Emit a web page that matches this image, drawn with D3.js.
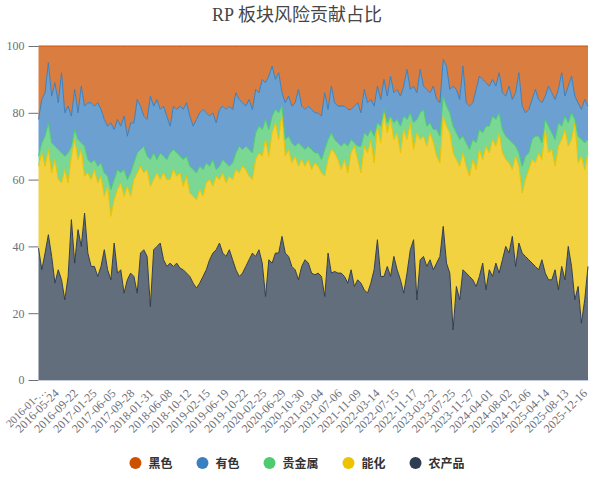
<!DOCTYPE html>
<html>
<head>
<meta charset="utf-8">
<script src="https://cdn.jsdelivr.net/npm/d3@7"></script>
<style>
    html, body { margin: 0; padding: 0; background: #fff; }
    svg { display: block; }
</style>
</head>
<body>
<svg id="chart"></svg>
<script>
// legend order (top of the stack first)
const seriesNames = ['黑色', '有色', '贵金属', '能化', '农产品']
const seriesColors = ['#cc5200', '#3a80c0', '#4dcb70', '#edc300', '#2f3d52']

const tickLabels = [
    '2016-01-…', '2016-05-24', '2016-09-22', '2017-01-25', '2017-06-05', '2017-09-28',
    '2018-01-31', '2018-06-08', '2018-10-12', '2019-02-15', '2019-06-19', '2019-10-22',
    '2020-02-25', '2020-06-29', '2020-10-30', '2021-03-04', '2021-07-06', '2021-11-09',
    '2022-03-14', '2022-07-15', '2022-11-17', '2023-03-22', '2023-07-25', '2023-11-27',
    '2024-04-01', '2024-08-02', '2024-12-06', '2025-04-14', '2025-08-13', '2025-12-16'
]

// share of risk contribution (%), one value every 15 trading days
const agri = [
    39.5, 33, 38, 43.5, 37, 29, 33, 30, 24, 31,
    48, 35, 45, 40, 50, 38, 34, 34, 31, 34,
    39, 33, 30, 41, 32, 33, 26, 30, 32, 31,
    26, 38, 39, 37, 22, 39, 40, 41, 36, 34,
    35, 34, 35, 33.5, 33, 32, 31, 29, 27.5, 29,
    31, 33, 36, 38, 39, 41, 38, 37, 39, 36,
    33, 31, 32, 34, 36, 38, 37, 39, 35, 25,
    36, 35, 38, 38, 43, 38, 37, 34, 33, 30,
    34, 36, 35, 32, 31.5, 32, 31, 25, 38, 32,
    32.5, 32, 32, 31, 29, 33, 28, 30, 29, 27,
    26, 29, 33, 42, 31, 31, 34, 31, 37, 33,
    30, 26, 32, 39, 42, 24, 36, 37, 34, 36,
    33, 35, 37, 46, 35, 32, 15, 28, 24, 33,
    32, 31, 30, 28, 31, 35, 27, 33, 31, 35,
    32, 36, 40, 38, 43, 34, 41, 38, 37, 36,
    35, 34, 33, 36, 32, 30, 30, 33, 27, 34,
    30, 40, 34, 24, 28, 17, 24, 34
]
const energy = [
    24.5, 35, 26, 25.5, 25, 37, 27, 29, 39, 28,
    19, 37, 21, 29, 11, 24, 26, 29, 28, 27,
    16, 25, 19, 13, 25, 26, 29, 28, 23, 29,
    36, 26, 23, 26, 36, 21, 22, 19, 26, 26,
    25, 29, 26, 28.5, 25, 29, 25, 26, 26.5, 28,
    24, 26, 24, 20, 22, 19, 24, 22, 22, 24,
    30, 31, 32, 29, 25, 22, 29, 29, 32, 47,
    31, 39, 39, 34, 37, 29, 32, 31, 34, 34,
    32, 28, 31, 31, 33.5, 32, 31, 36, 28, 37,
    35.5, 34, 31, 35, 33, 35, 42, 36, 33, 43,
    42, 43, 32, 34, 40, 49, 40, 47, 35, 41,
    38, 49, 40, 38, 27, 50, 36, 36, 36, 38,
    38, 32, 28, 33, 41, 42, 53, 38, 40, 35,
    32, 30, 36, 35, 38, 31, 43, 35, 41, 35,
    42, 32, 26, 27, 20, 33, 23, 18, 23, 27,
    31, 31, 35, 30, 43, 38, 39, 31, 43, 38,
    45, 30, 38, 53, 37, 50, 39, 34
]
const precious = [
    3, 3, 9, 8, 9, 4, 9, 9, 4, 9,
    3, 3, 6, 2, 9, 4, 5, 3, 5, 4,
    7, 3, 8, 6, 6, 3, 8, 2, 7, 5,
    6, 5, 8, 4, 8, 8, 4, 8, 5, 6,
    8, 6, 7, 5, 8, 6, 8, 8, 8, 7,
    8, 6, 4, 8, 2, 4, 4, 6, 3, 5,
    5, 8, 5, 7, 8, 8, 8, 8, 8, 6,
    8, 5, 4, 8, 2, 5, 4, 6, 3, 7,
    4, 5, 4, 6, 3, 4, 4, 8, 6, 5,
    4, 5, 7, 5, 8, 4, 1, 4, 8, 4,
    5, 3, 8, 1, 5, 1, 3, 1, 5, 4,
    8, 4, 6, 3, 8, 4, 8, 8, 6, 3,
    4, 8, 8, 6, 6, 6, 8, 8, 8, 5,
    7, 8, 6, 8, 6, 8, 6, 8, 7, 8,
    6, 7, 7, 7, 8, 3, 4, 8, 7, 5,
    6, 8, 5, 5, 3, 8, 5, 8, 7, 4,
    4, 7, 8, 1, 8, 5, 8, 4
]
const nonferrous = [
    11, 13, 13, 18, 14, 19, 14, 24, 13, 14,
    9, 12, 8, 17, 12, 17, 18, 16, 19, 16,
    16, 15, 20, 15, 15, 14, 16, 13, 15, 12,
    16, 13, 9, 11, 19, 14, 18, 13, 15, 13,
    8, 13, 13, 15, 15, 16, 15, 13, 16, 16,
    18, 15, 15, 14, 14, 17, 16, 16, 18, 16,
    18, 14, 14, 12, 15, 13, 13, 10, 15, 11,
    16, 15, 9, 12, 4, 11, 12, 11, 13, 16,
    12, 12, 12, 12, 12, 12, 13, 17, 9, 14,
    11, 11, 12, 11, 11, 9, 11, 13, 10, 13,
    10, 9, 9, 11, 8, 9, 8, 12, 9, 9,
    9, 9, 15, 7, 11, 8, 13, 7, 11, 9,
    13, 9, 10, 11, 12, 7, 12, 13, 12, 21,
    12, 13, 11, 16, 16, 16, 13, 12, 11, 10,
    12, 11, 12, 16, 13, 16, 24, 18, 13, 13,
    12, 14, 11, 12, 7, 12, 12, 12, 10, 16,
    6, 11, 11, 7, 10, 9, 13, 10
]
const ferrous = [
    22, 16, 14, 5, 15, 11, 17, 8, 20, 18,
    21, 13, 20, 12, 18, 17, 17, 18, 17, 19,
    22, 24, 23, 25, 22, 24, 21, 27, 23, 23,
    16, 18, 21, 22, 15, 18, 16, 19, 18, 21,
    24, 18, 19, 18, 19, 17, 21, 24, 22, 20,
    19, 20, 21, 20, 23, 19, 18, 19, 18, 19,
    14, 16, 17, 18, 16, 19, 13, 14, 10, 11,
    9, 6, 10, 8, 14, 17, 15, 18, 17, 13,
    18, 19, 18, 19, 20, 20, 21, 14, 19, 12,
    17, 18, 18, 18, 19, 19, 18, 17, 20, 13,
    17, 16, 18, 12, 16, 10, 15, 9, 14, 13,
    15, 12, 7, 13, 12, 14, 7, 12, 13, 14,
    12, 16, 17, 4, 6, 13, 12, 13, 16, 6,
    17, 18, 17, 13, 9, 10, 11, 12, 10, 12,
    8, 14, 15, 12, 16, 14, 8, 18, 20, 19,
    16, 13, 16, 17, 15, 12, 14, 16, 13, 8,
    15, 12, 9, 15, 17, 19, 16, 18
]

const stepDays = 15    // trading days between samples
const labelDays = 86   // trading days between axis labels

const width = 594
const height = 483
const plot = { left: 38.5, right: 588, top: 46, bottom: 380 }
const latin = '"Liberation Serif", "Noto Sans CJK SC", serif'
const cjk = '"Noto Sans CJK SC", sans-serif'

const svg = d3.select('#chart')
    .attr('width', width)
    .attr('height', height)

const color = d3.scaleOrdinal().domain(seriesNames).range(seriesColors)

const rows = agri.map((v, i) => ({
    day: i * stepDays,
    '农产品': v,
    '能化': energy[i],
    '贵金属': precious[i],
    '有色': nonferrous[i],
    '黑色': ferrous[i]
}))

// bottom of the stack first
const stacked = d3.stack().keys(seriesNames.slice().reverse())(rows)

const x = d3.scaleLinear()
    .domain([0, (rows.length - 1) * stepDays])
    .range([plot.left, plot.right])

const y = d3.scaleLinear()
    .domain([0, 100])
    .range([plot.bottom, plot.top])

const area = d3.area()
    .x(d => x(d.data.day))
    .y0(d => y(d[0]))
    .y1(d => y(d[1]))

const line = d3.line()
    .x(d => x(d.data.day))
    .y(d => y(d[1]))

// areas
svg.append('g')
    .selectAll('path')
    .data(stacked)
    .join('path')
    .attr('d', area)
    .attr('fill', d => color(d.key))
    .attr('fill-opacity', 0.75)

// lines on top
svg.append('g')
    .selectAll('path')
    .data(stacked)
    .join('path')
    .attr('d', line)
    .attr('fill', 'none')
    .attr('stroke', d => color(d.key))
    .attr('stroke-width', 1)
    .attr('stroke-linejoin', 'bevel')

// y axis
const yAxis = svg.append('g')
    .attr('transform', `translate(${plot.left},0)`)
    .call(d3.axisLeft(y).tickValues([0, 20, 40, 60, 80, 100]).tickSize(10).tickPadding(4))

yAxis.select('.domain').remove()
yAxis.selectAll('line').attr('stroke', '#6e7079')
yAxis.selectAll('text')
    .attr('fill', '#6e7079')
    .style('font-family', latin)
    .style('font-size', '12px')

// x axis
const xAxis = svg.append('g')
    .attr('transform', `translate(0,${plot.bottom})`)
    .call(d3.axisBottom(x)
        .tickValues(tickLabels.map((_, k) => k * labelDays))
        .tickFormat((_, k) => tickLabels[k])
        .tickSize(0))

xAxis.select('.domain').attr('stroke', '#c2cadb')
xAxis.selectAll('text')
    .attr('y', 0)
    .attr('dy', '0.35em')
    .attr('text-anchor', 'end')
    .attr('transform', 'translate(-1,11) rotate(-45)')
    .attr('fill', '#6e7079')
    .style('font-family', latin)
    .style('font-size', '12px')

// first label sits right on the page edge, keep it inside
xAxis.select('.tick text')
    .attr('transform', 'translate(5,9) rotate(-45)')
    .style('font-size', '11px')

// title
svg.append('text')
    .attr('x', width / 2)
    .attr('y', 21)
    .attr('text-anchor', 'middle')
    .attr('fill', '#464646')
    .style('font-family', latin)
    .style('font-size', '18px')
    .text('RP 板块风险贡献占比')

// legend
const legend = svg.append('g')
const items = legend.selectAll('g')
    .data(seriesNames)
    .join('g')

items.append('circle')
    .attr('r', 6)
    .attr('fill', d => color(d))

items.append('text')
    .attr('x', 13)
    .attr('y', 4.5)
    .attr('fill', '#333')
    .style('font-family', cjk)
    .style('font-size', '12px')
    .style('font-weight', 'bold')
    .text(d => d)

let cursor = 0
items.each(function()
{
    const w = d3.select(this).select('text').node().getComputedTextLength()
    d3.select(this).attr('transform', `translate(${cursor},0)`)
    cursor += 13 + w + 30
})
const legendWidth = cursor - 30 + 6
legend.attr('transform', `translate(${width / 2 - legendWidth / 2 + 6},463)`)
</script>
</body>
</html>
